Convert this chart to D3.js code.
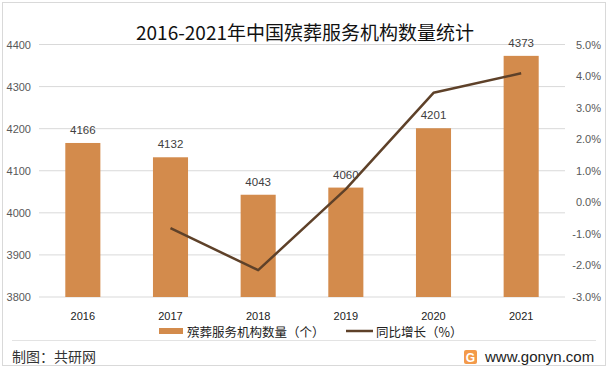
<!DOCTYPE html>
<html><head><meta charset="utf-8">
<script src="https://cdn.jsdelivr.net/npm/d3@7"></script>
<style>body{margin:0;background:#fff}svg{display:block}</style>
</head><body>
<svg id="c" width="611" height="373"></svg>
<script>
const years = ["2016","2017","2018","2019","2020","2021"];
const counts = [4166,4132,4043,4060,4201,4373];
const growthYears = ["2017","2018","2019","2020","2021"];
const growth = [-0.82,-2.15,0.42,3.47,4.09];
const leftTicks = [3800,3900,4000,4100,4200,4300,4400];
const rightTicks = [-3,-2,-1,0,1,2,3,4,5];
const title = "2016-2021年中国殡葬服务机构数量统计";
const legendLabels = ["殡葬服务机构数量（个）","同比增长（%）"];

const font = "'Microsoft YaHei','Noto Sans CJK SC','DejaVu Sans',sans-serif";
const svg = d3.select("#c");
const L = 39, R = 565, T = 44.5, B = 297;
const barColor = "#D38B4C", lineColor = "#5E4129";

svg.append("rect").attr("x",2.5).attr("y",2.5).attr("width",603).attr("height",363)
  .attr("fill","#fff").attr("stroke","#d9d9d9");

const x = d3.scaleBand().domain(years).range([L,R]).paddingInner(0.6).paddingOuter(0.3);
const xb = d3.scaleBand().domain(years).range([L,R]);
const y = d3.scaleLinear().domain([3800,4400]).range([B,T]);
const y2 = d3.scaleLinear().domain([-3,5]).range([B,T]);

// gridlines
svg.append("g").selectAll("line").data(leftTicks).join("line")
  .attr("x1",L).attr("x2",R).attr("y1",d=>y(d)).attr("y2",d=>y(d))
  .attr("stroke","#d9d9d9").attr("stroke-width",1);

// left axis
const ga = svg.append("g").attr("transform",`translate(31,0)`)
  .call(d3.axisLeft(y).tickValues(leftTicks).tickSize(0).tickPadding(0).tickFormat(d3.format("d")));
ga.select(".domain").remove();
ga.selectAll("text").attr("fill","#595959").style("font-size","11px").style("font-family","'Liberation Sans',Arial,sans-serif");

// right axis
const gr = svg.append("g").attr("transform",`translate(601,0)`)
  .call(d3.axisLeft(y2).tickValues(rightTicks).tickSize(0).tickPadding(0).tickFormat(d=>d.toFixed(1)+"%"));
gr.select(".domain").remove();
gr.selectAll("text").attr("fill","#595959").style("font-size","11px").style("font-family","'Liberation Sans',Arial,sans-serif");

// x axis labels
svg.append("g").selectAll("text").data(years).join("text")
  .attr("x",d=>xb(d)+xb.bandwidth()/2).attr("y",319.5)
  .attr("text-anchor","middle").attr("fill","#222").style("font-size","11px")
  .style("font-family","'Liberation Sans',Arial,sans-serif").text(d=>d);

// bars
svg.append("g").selectAll("rect").data(years).join("rect")
  .attr("x",d=>x(d)).attr("width",x.bandwidth())
  .attr("y",(d,i)=>y(counts[i])).attr("height",(d,i)=>B-y(counts[i]))
  .attr("fill",barColor);

// bar labels
svg.append("g").selectAll("text").data(years).join("text")
  .attr("x",d=>xb(d)+xb.bandwidth()/2).attr("y",(d,i)=>y(counts[i])-9)
  .attr("text-anchor","middle").attr("fill","#404040").style("font-size","11.5px")
  .style("font-family","'Liberation Sans',Arial,sans-serif").text((d,i)=>counts[i]);

// line
const line = d3.line().x(d=>xb(d[0])+xb.bandwidth()/2).y(d=>y2(d[1]));
svg.append("path").datum(growthYears.map((d,i)=>[d,growth[i]]))
  .attr("d",line).attr("fill","none").attr("stroke",lineColor).attr("stroke-width",2.5)
  .attr("stroke-linejoin","round");

// title
svg.append("text").attr("x",305).attr("y",40).attr("text-anchor","middle")
  .attr("fill","#111").style("font-size","19px").style("font-family",font).text(title);

// legend
svg.append("rect").attr("x",159).attr("y",328).attr("width",24).attr("height",6).attr("fill",barColor);
svg.append("text").attr("x",187).attr("y",336.5).attr("fill","#222").style("font-size","12.5px")
  .style("font-family",font).text(legendLabels[0]);
svg.append("line").attr("x1",346).attr("x2",373).attr("y1",331).attr("y2",331)
  .attr("stroke",lineColor).attr("stroke-width",2.5);
svg.append("text").attr("x",376).attr("y",336.5).attr("fill","#222").style("font-size","12.5px")
  .style("font-family",font).text(legendLabels[1]);

// footer
svg.append("line").attr("x1",12).attr("x2",596).attr("y1",340.5).attr("y2",340.5).attr("stroke","#e3e3e3");
svg.append("text").attr("x",12).attr("y",362).attr("fill","#333").style("font-size","14px")
  .style("font-family",font).text("制图：共研网");
svg.append("rect").attr("x",464).attr("y",350).attr("width",13).attr("height",14).attr("rx",2).attr("fill","#F39A4A");
svg.append("text").attr("x",470.5).attr("y",361.5).attr("text-anchor","middle").attr("fill","#fff")
  .style("font-size","12px").style("font-weight","bold").style("font-family","'Liberation Sans',Arial,sans-serif").text("G");
svg.append("text").attr("x",485).attr("y",362).attr("fill","#222").style("font-size","15px")
  .style("font-family","'Liberation Sans',Arial,sans-serif").text("www.gonyn.com");
</script>
</body></html>
